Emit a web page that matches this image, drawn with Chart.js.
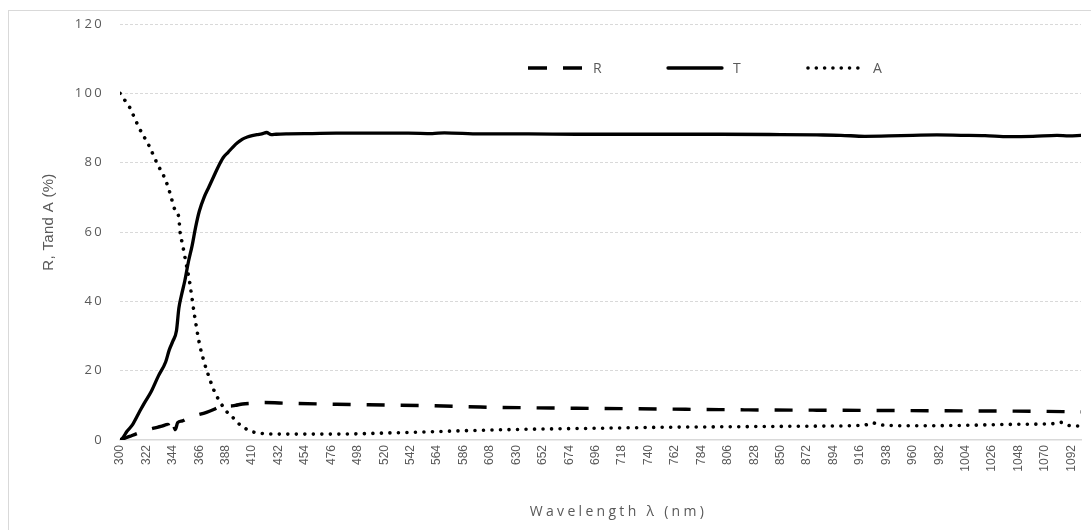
<!DOCTYPE html>
<html>
<head>
<meta charset="utf-8">
<script src="https://cdn.jsdelivr.net/npm/chart.js@4.4.1/dist/chart.umd.min.js"></script>
<style>
  html, body { margin: 0; padding: 0; background: #ffffff; }
  #wrap { width: 1091px; height: 530px; position: relative; }
</style>
</head>
<body>
<div id="wrap"><canvas id="c"></canvas></div>
<script>
// ---- data ----
const seriesLabels = ['R', 'T', 'A'];

const wlT = [300,302,306,310,316,320,326,332,338,341,344,347,349,351,354,357,360,363,366,370,374,378,382,386,390,394,398,402,406,410,414,418,422,426,430,440,460,480,500,540,560,570,600,640,680,720,760,800,850,880,900,920,940,960,980,1000,1020,1040,1060,1080,1090,1100];
const tVals = [0,0.5,2.6,4.2,8,10.5,14,18.5,22.5,26,28.5,31.5,38,41.5,46,51.5,56,61.5,66,70,73,76,79,81.5,83,84.5,85.8,86.8,87.4,87.8,88.1,88.3,88.7,88.1,88.2,88.3,88.4,88.5,88.5,88.5,88.4,88.6,88.3,88.3,88.2,88.2,88.2,88.2,88.1,88.0,87.9,87.6,87.7,87.9,88.0,87.9,87.8,87.5,87.6,87.9,87.7,87.9];

const wlA = [300,304,308,312,316,320,324,328,332,336,340,343,345,347,349,350,352,355,358,362,366,370,374,378,382,386,390,394,398,402,406,410,416,422,440,480,520,560,600,640,680,720,760,800,840,880,920,926,932,960,1000,1040,1080,1084,1090,1100];
const aVals = [100,98,96,93,90,87.5,85,82,79,76.5,73,69.5,67,66,64,60,56.5,51,45.5,36,28,22.5,18.3,14.5,11.7,9.5,7.7,6.5,5,3.8,3,2.4,2,1.8,1.7,1.7,2.0,2.4,2.8,3.1,3.3,3.5,3.7,3.8,3.9,4.0,4.3,5.0,4.4,4.1,4.2,4.5,4.8,5.1,4.2,4.0];

const wlR = [300,304,310,316,322,328,334,340,342,344,346,348,352,356,360,366,372,378,384,388,392,396,402,410,420,440,480,520,560,600,640,700,760,820,880,940,1000,1060,1100];
const rVals = [0,0.5,1.3,2.1,2.8,3.4,3.9,4.5,2.8,4.8,3.0,5.0,5.5,6.2,6.9,7.4,8.0,8.8,9.8,10.4,9.8,10.0,10.4,10.6,10.8,10.6,10.3,10.1,9.9,9.5,9.3,9.1,8.9,8.7,8.6,8.5,8.4,8.3,8.1];

const xTickLabels = [300,322,344,366,388,410,432,454,476,498,520,542,564,586,608,630,652,674,696,718,740,762,784,806,828,850,872,894,916,938,960,982,1004,1026,1048,1070,1092];
const yTickValues = [0,20,40,60,80,100,120];

const yTitle = 'R, Tand A (%)';
const xTitle = 'Wavelength \u03bb (nm)';

// ---- helpers ----
const pts = (xs, ys) => xs.map((x, i) => ({ x: x, y: ys[i] }));
const GRAY_TEXT = '#595959';
const GRID = '#d9d9d9';

const frameAndWraps = {
  id: 'frameAndWraps',
  beforeDraw(chart) {
    const ctx = chart.ctx;
    ctx.save();
    ctx.fillStyle = '#ffffff';
    ctx.fillRect(0, 0, chart.width, chart.height);
    ctx.strokeStyle = GRID;
    ctx.lineWidth = 1;
    ctx.strokeRect(8.5, 10.5, 1200, 700);
    ctx.restore();

    const y = chart.scales.y, x = chart.scales.x;
    if (!y._wrapped) {
      const origL = y.drawLabels;
      y.drawLabels = function () {
        const c = this.ctx; c.save(); c.letterSpacing = '2.3px';
        origL.apply(this, arguments); c.restore();
      };
      const origT = y.drawTitle;
      y.drawTitle = function () {
        const c = this.ctx; c.save(); c.translate(0, -10); c.letterSpacing = '0.3px';
        origT.apply(this, arguments); c.restore();
      };
      y._wrapped = true;
    }
    if (!x._wrapped) {
      const origT = x.drawTitle;
      x.drawTitle = function () {
        const c = this.ctx; c.save(); c.translate(18, 0); c.letterSpacing = '3.3px';
        origT.apply(this, arguments); c.restore();
      };
      x._wrapped = true;
    }
  },
  afterDraw(chart) {
    const ctx = chart.ctx;
    const startX = 528, pitch = 140, lineLen = 54, yPos = 68;
    ctx.save();
    chart.data.datasets.forEach((ds, i) => {
      const x0 = startX + i * pitch;
      ctx.beginPath();
      ctx.lineWidth = ds.borderWidth;
      ctx.strokeStyle = ds.borderColor;
      ctx.lineCap = ds.borderCapStyle || 'butt';
      ctx.setLineDash(ds.legendDash || []);
      ctx.moveTo(x0, yPos);
      ctx.lineTo(x0 + lineLen, yPos);
      ctx.stroke();
      ctx.setLineDash([]);
      ctx.fillStyle = GRAY_TEXT;
      ctx.font = '14px "Open Sans"';
      ctx.textBaseline = 'middle';
      ctx.textAlign = 'left';
      ctx.fillText(ds.label, x0 + lineLen + 11, yPos + 1);
    });
    ctx.restore();
  }
};

new Chart(document.getElementById('c'), {
  type: 'line',
  data: {
    datasets: [
      {
        label: seriesLabels[0],
        data: pts(wlR, rVals),
        borderColor: '#000000',
        borderWidth: 3.4,
        borderDash: [18, 16],
        legendDash: [19, 16],
        borderCapStyle: 'butt',
        pointRadius: 0,
        cubicInterpolationMode: 'monotone',
        fill: false
      },
      {
        label: seriesLabels[1],
        data: pts(wlT, tVals),
        borderColor: '#000000',
        borderWidth: 3.3,
        borderCapStyle: 'round',
        pointRadius: 0,
        cubicInterpolationMode: 'monotone',
        fill: false
      },
      {
        label: seriesLabels[2],
        data: pts(wlA, aVals),
        borderColor: '#000000',
        borderWidth: 3.6,
        borderDash: [0.01, 8.5],
        legendDash: [0.01, 8.3],
        borderCapStyle: 'round',
        pointRadius: 0,
        cubicInterpolationMode: 'monotone',
        fill: false
      }
    ]
  },
  options: {
    responsive: true,
    maintainAspectRatio: false,
    animation: false,
    devicePixelRatio: 1,
    layout: { padding: { left: 0, right: 10, top: 24, bottom: 0 } },
    plugins: {
      legend: { display: false },
      tooltip: { enabled: false }
    },
    scales: {
      x: {
        type: 'linear',
        min: 300,
        max: 1100,
        afterBuildTicks: (s) => { s.ticks = xTickLabels.map(v => ({ value: v })); },
        afterFit: (s) => { s.height = 90; },
        grid: { display: false, drawTicks: false },
        border: { display: true, color: GRID, width: 1.5 },
        ticks: {
          autoSkip: false,
          minRotation: 90,
          maxRotation: 90,
          padding: 5,
          color: GRAY_TEXT,
          font: { family: '"Liberation Sans Narrow", "Liberation Sans"', size: 12 },
          callback: (v) => String(v)
        },
        title: {
          display: true,
          text: xTitle,
          color: GRAY_TEXT,
          font: { family: '"Open Sans"', size: 14 },
          padding: { top: 0, bottom: 10 }
        }
      },
      y: {
        min: 0,
        max: 120,
        afterBuildTicks: (s) => { s.ticks = yTickValues.map(v => ({ value: v })); },
        afterFit: (s) => { s.width = 120; },
        grid: {
          drawTicks: false,
          color: (c) => (c.tick && c.tick.value === 0) ? 'rgba(0,0,0,0)' : GRID,
          lineWidth: 1
        },
        border: { display: false, dash: [3, 2] },
        ticks: {
          padding: 16,
          color: GRAY_TEXT,
          font: { family: '"Open Sans"', size: 13 }
        },
        title: {
          display: true,
          text: yTitle,
          color: GRAY_TEXT,
          font: { family: '"Liberation Sans"', size: 15 },
          padding: { top: 40, bottom: 0 }
        }
      }
    }
  },
  plugins: [frameAndWraps]
});
</script>
</body>
</html>
